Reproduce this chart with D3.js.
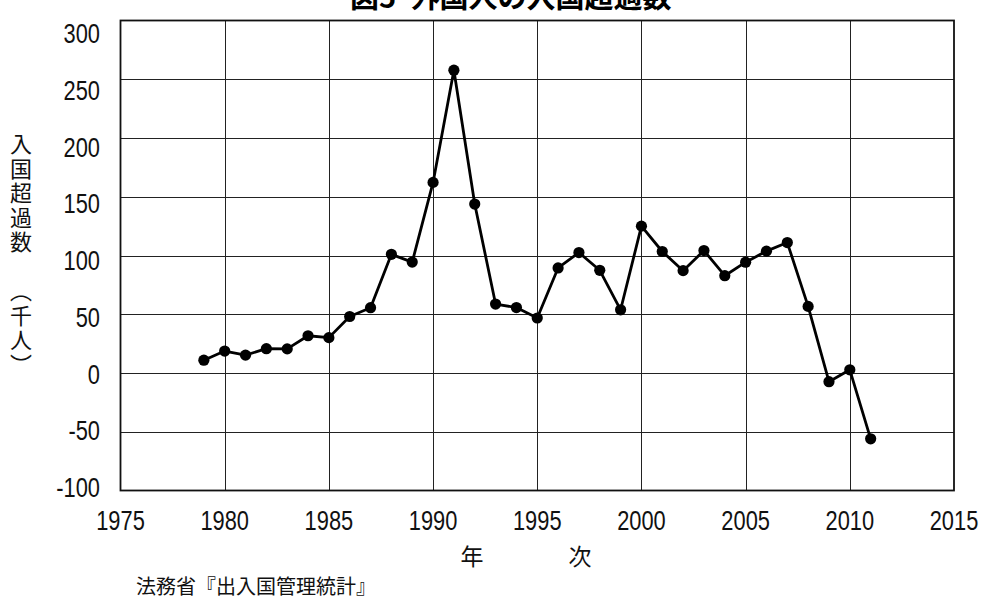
<!DOCTYPE html>
<html>
<head>
<meta charset="utf-8">
<script src="https://cdn.jsdelivr.net/npm/d3@7"></script>
<style>
  html, body { margin: 0; padding: 0; background: #fff; }
  svg { display: block; }
</style>
</head>
<body>
<svg id="chart" width="984" height="600"></svg>
<script>
// ---- data ----
const years = [1979,1980,1981,1982,1983,1984,1985,1986,1987,1988,1989,1990,1991,1992,1993,1994,1995,
               1996,1997,1998,1999,2000,2001,2002,2003,2004,2005,2006,2007,2008,2009,2010,2011];
const netEntries = [10.9,18.7,15.2,20.7,20.5,31.7,30.1,48.1,55.6,101,94.4,162.2,257.7,143.8,58.7,55.7,46.8,
                    89.4,102.5,87.4,53.8,125,103.4,87.1,104.2,82.8,94.3,103.7,111,56.7,-7.4,2.7,-56];
const xTicks = [1975,1980,1985,1990,1995,2000,2005,2010,2015];
const yTicks = [300,250,200,150,100,50,0,-50,-100];
const titleText = "図5\u2002外国人の入国超過数";
const yTitleText = "入国超過数\u3000（千人）";
const xTitleChars = ["年","次"];
const sourceText = "法務省『出入国管理統計』";

// ---- layout ----
const svg = d3.select("#chart");
const pL = 120.5, pR = 954, pT = 20.5, pB = 490.5;
const x = d3.scaleLinear().domain([1975, 2015]).range([pL, pR]);
const y = d3.scaleLinear().domain([-100, 300]).range([pB, pT]);
const yLab = d3.scaleLinear().domain([300, -100]).range([33, 487]);
const digitFont = "'Liberation Sans', Arial, sans-serif";
const cjkFont = "'Noto Sans CJK JP', 'Noto Sans CJK SC', sans-serif";

// grid
const grid = svg.append("g").attr("stroke", "#222").attr("stroke-width", 1).attr("shape-rendering", "crispEdges");
grid.selectAll("line.v").data(xTicks.slice(1, -1)).join("line").attr("class", "v")
  .attr("x1", d => Math.round(x(d)) + 0.5).attr("x2", d => Math.round(x(d)) + 0.5)
  .attr("y1", pT).attr("y2", pB);
grid.selectAll("line.h").data(yTicks.slice(1, -1)).join("line").attr("class", "h")
  .attr("y1", d => Math.round(y(d)) + 0.5).attr("y2", d => Math.round(y(d)) + 0.5)
  .attr("x1", pL).attr("x2", pR);

// frame
svg.append("rect").attr("x", pL).attr("y", pT).attr("width", pR - pL).attr("height", pB - pT)
  .attr("fill", "none").attr("stroke", "#111").attr("stroke-width", 1.8);

// y tick labels
svg.append("g").selectAll("text").data(yTicks).join("text")
  .attr("transform", d => `translate(100,${yLab(d)}) scale(0.78,1)`)
  .attr("text-anchor", "end").attr("dominant-baseline", "central")
  .attr("font-family", digitFont).attr("font-size", 28).attr("fill", "#111")
  .text(d => d);

// x tick labels
svg.append("g").selectAll("text").data(xTicks).join("text")
  .attr("transform", d => `translate(${x(d)},520) scale(0.78,1)`)
  .attr("text-anchor", "middle").attr("dominant-baseline", "central")
  .attr("font-family", digitFont).attr("font-size", 28).attr("fill", "#111")
  .text(d => d);

// line + points
const line = d3.line().x((d, i) => x(years[i])).y(d => y(d));
svg.append("path").datum(netEntries).attr("d", line)
  .attr("fill", "none").attr("stroke", "#000").attr("stroke-width", 2.8).attr("stroke-linejoin", "round");
svg.append("g").selectAll("circle").data(netEntries).join("circle")
  .attr("cx", (d, i) => x(years[i])).attr("cy", d => y(d)).attr("r", 5.6).attr("fill", "#000");

// title (clipped at top in the original)
svg.append("text").attr("x", 350).attr("y", 8)
  .attr("font-family", cjkFont).attr("font-weight", "bold").attr("font-size", 29).attr("fill", "#000")
  .text(titleText);

// y axis title (vertical writing)
svg.append("text")
  .attr("x", 21).attr("y", 133)
  .style("writing-mode", "vertical-rl")
  .style("text-spacing-trim", "space-all")
  .style("letter-spacing", "2.5px")
  .attr("font-family", cjkFont).attr("font-size", 22).attr("fill", "#111")
  .text(yTitleText);

// x axis title
const xCharPos = [472, 580];
svg.append("g").selectAll("text").data(xTitleChars).join("text")
  .attr("x", (d, i) => xCharPos[i]).attr("y", 555)
  .attr("text-anchor", "middle").attr("dominant-baseline", "central")
  .attr("font-family", cjkFont).attr("font-size", 23).attr("fill", "#111").text(d => d);

// source
svg.append("text").attr("x", 136).attr("y", 585).attr("dominant-baseline", "central")
  .attr("font-family", cjkFont).attr("font-size", 20).attr("fill", "#111").text(sourceText);
</script>
</body>
</html>
